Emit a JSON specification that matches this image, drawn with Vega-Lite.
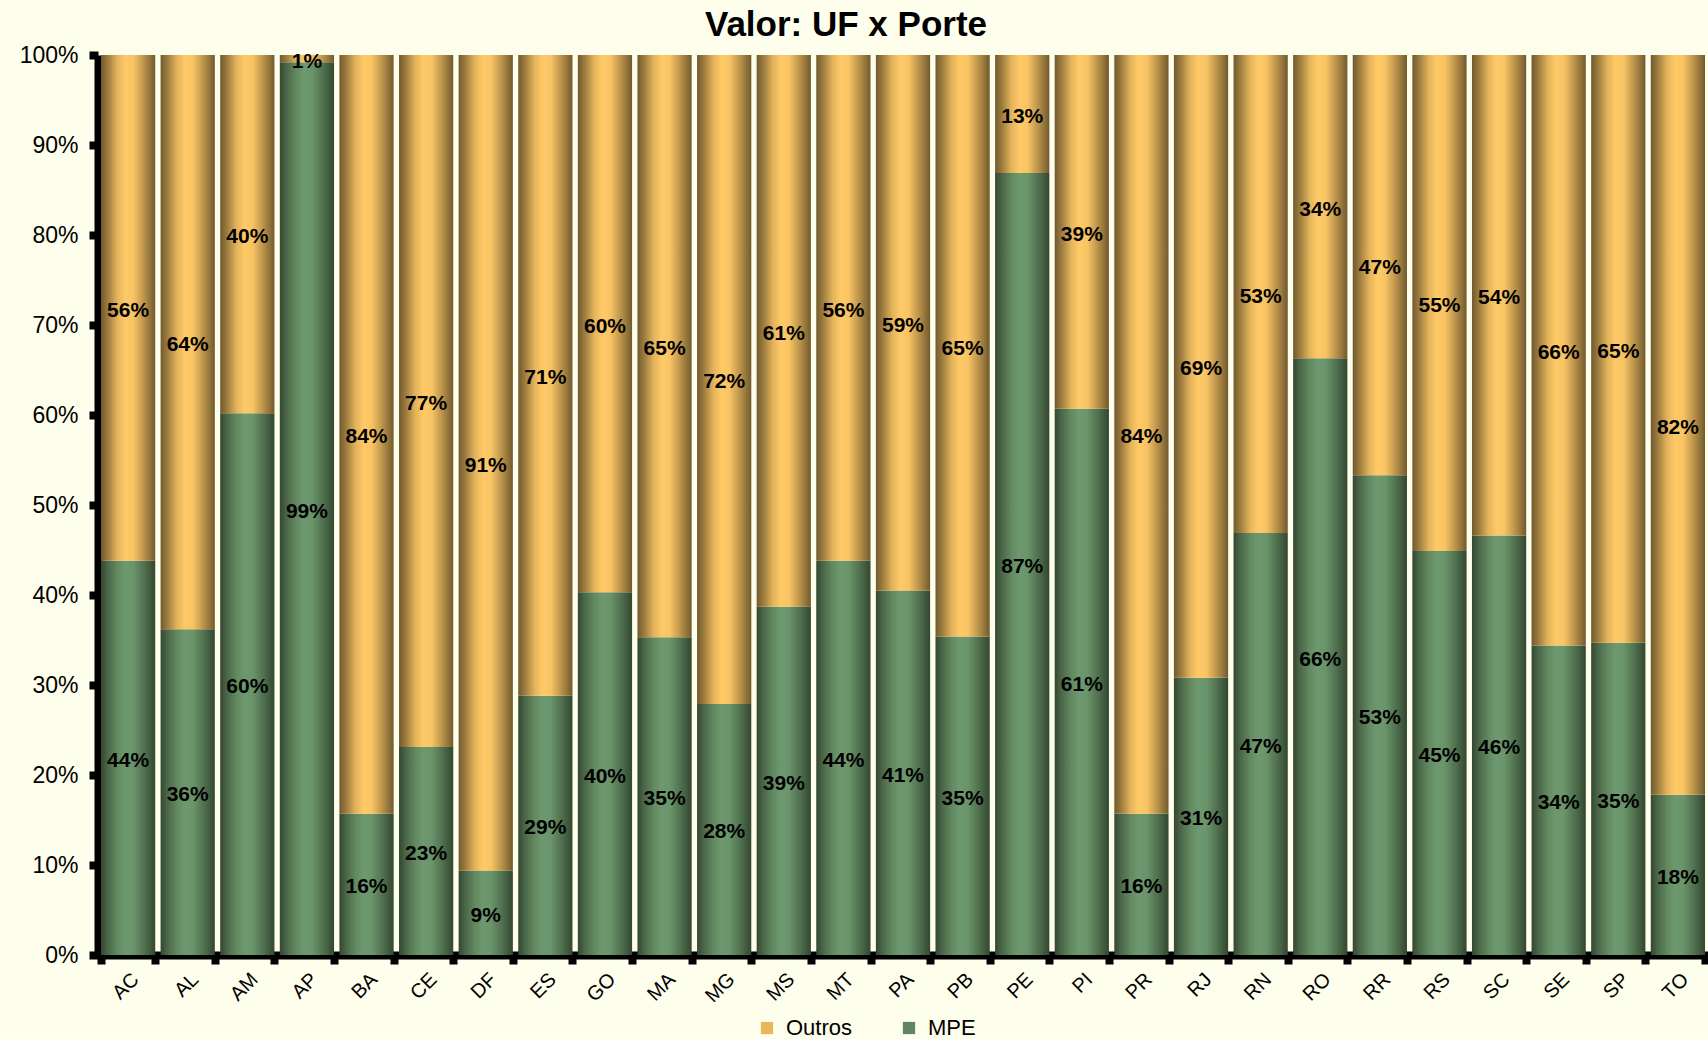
{
  "$schema": "https://vega.github.io/schema/vega-lite/v6.json",
  "width": 1610,
  "height": 900,
  "autosize": "none",
  "padding": {"left": 98, "top": 55, "right": 0, "bottom": 84},
  "background": "#fefeec",
  "title": {
    "text": "Valor: UF x Porte",
    "font": "Liberation Sans",
    "fontSize": 35,
    "fontWeight": "bold",
    "color": "#000000",
    "anchor": "middle",
    "dx": -57,
    "offset": 1
  },
  "config": {
    "view": {"stroke": null},
    "font": "Liberation Sans",
    "axis": {
      "domainColor": "#000000",
      "domainWidth": 8,
      "tickColor": "#000000",
      "tickWidth": 8,
      "tickSize": 9,
      "labelColor": "#000000",
      "labelFont": "Liberation Sans",
      "grid": false,
      "title": null
    }
  },
  "data": {
    "values": [
      {"uf": "AC", "porte": "MPE", "value": 0.438, "label": "44%"},
      {"uf": "AC", "porte": "Outros", "value": 0.562, "label": "56%"},
      {"uf": "AL", "porte": "MPE", "value": 0.362, "label": "36%"},
      {"uf": "AL", "porte": "Outros", "value": 0.638, "label": "64%"},
      {"uf": "AM", "porte": "MPE", "value": 0.602, "label": "60%"},
      {"uf": "AM", "porte": "Outros", "value": 0.398, "label": "40%"},
      {"uf": "AP", "porte": "MPE", "value": 0.992, "label": "99%"},
      {"uf": "AP", "porte": "Outros", "value": 0.008, "label": "1%"},
      {"uf": "BA", "porte": "MPE", "value": 0.157, "label": "16%"},
      {"uf": "BA", "porte": "Outros", "value": 0.843, "label": "84%"},
      {"uf": "CE", "porte": "MPE", "value": 0.231, "label": "23%"},
      {"uf": "CE", "porte": "Outros", "value": 0.769, "label": "77%"},
      {"uf": "DF", "porte": "MPE", "value": 0.094, "label": "9%"},
      {"uf": "DF", "porte": "Outros", "value": 0.906, "label": "91%"},
      {"uf": "ES", "porte": "MPE", "value": 0.288, "label": "29%"},
      {"uf": "ES", "porte": "Outros", "value": 0.712, "label": "71%"},
      {"uf": "GO", "porte": "MPE", "value": 0.403, "label": "40%"},
      {"uf": "GO", "porte": "Outros", "value": 0.597, "label": "60%"},
      {"uf": "MA", "porte": "MPE", "value": 0.353, "label": "35%"},
      {"uf": "MA", "porte": "Outros", "value": 0.647, "label": "65%"},
      {"uf": "MG", "porte": "MPE", "value": 0.279, "label": "28%"},
      {"uf": "MG", "porte": "Outros", "value": 0.721, "label": "72%"},
      {"uf": "MS", "porte": "MPE", "value": 0.387, "label": "39%"},
      {"uf": "MS", "porte": "Outros", "value": 0.613, "label": "61%"},
      {"uf": "MT", "porte": "MPE", "value": 0.438, "label": "44%"},
      {"uf": "MT", "porte": "Outros", "value": 0.562, "label": "56%"},
      {"uf": "PA", "porte": "MPE", "value": 0.405, "label": "41%"},
      {"uf": "PA", "porte": "Outros", "value": 0.595, "label": "59%"},
      {"uf": "PB", "porte": "MPE", "value": 0.354, "label": "35%"},
      {"uf": "PB", "porte": "Outros", "value": 0.646, "label": "65%"},
      {"uf": "PE", "porte": "MPE", "value": 0.869, "label": "87%"},
      {"uf": "PE", "porte": "Outros", "value": 0.131, "label": "13%"},
      {"uf": "PI", "porte": "MPE", "value": 0.607, "label": "61%"},
      {"uf": "PI", "porte": "Outros", "value": 0.393, "label": "39%"},
      {"uf": "PR", "porte": "MPE", "value": 0.157, "label": "16%"},
      {"uf": "PR", "porte": "Outros", "value": 0.843, "label": "84%"},
      {"uf": "RJ", "porte": "MPE", "value": 0.308, "label": "31%"},
      {"uf": "RJ", "porte": "Outros", "value": 0.692, "label": "69%"},
      {"uf": "RN", "porte": "MPE", "value": 0.469, "label": "47%"},
      {"uf": "RN", "porte": "Outros", "value": 0.531, "label": "53%"},
      {"uf": "RO", "porte": "MPE", "value": 0.663, "label": "66%"},
      {"uf": "RO", "porte": "Outros", "value": 0.337, "label": "34%"},
      {"uf": "RR", "porte": "MPE", "value": 0.533, "label": "53%"},
      {"uf": "RR", "porte": "Outros", "value": 0.467, "label": "47%"},
      {"uf": "RS", "porte": "MPE", "value": 0.449, "label": "45%"},
      {"uf": "RS", "porte": "Outros", "value": 0.551, "label": "55%"},
      {"uf": "SC", "porte": "MPE", "value": 0.466, "label": "46%"},
      {"uf": "SC", "porte": "Outros", "value": 0.534, "label": "54%"},
      {"uf": "SE", "porte": "MPE", "value": 0.344, "label": "34%"},
      {"uf": "SE", "porte": "Outros", "value": 0.656, "label": "66%"},
      {"uf": "SP", "porte": "MPE", "value": 0.347, "label": "35%"},
      {"uf": "SP", "porte": "Outros", "value": 0.653, "label": "65%"},
      {"uf": "TO", "porte": "MPE", "value": 0.178, "label": "18%"},
      {"uf": "TO", "porte": "Outros", "value": 0.822, "label": "82%"}
    ]
  },
  "transform": [
    {"stack": "value", "groupby": ["uf"], "sort": [{"field": "porte", "order": "ascending"}], "as": ["v0", "v1"]},
    {"calculate": "(datum.v0 + datum.v1) / 2", "as": "mid"}
  ],
  "encoding": {
    "x": {
      "field": "uf",
      "type": "nominal",
      "sort": null,
      "scale": {"paddingInner": 0.09, "paddingOuter": 0.05},
      "axis": {
        "labelAngle": -45,
        "labelFontSize": 20,
        "labelPadding": 5,
        "tickBand": "extent",
        "domainWidth": 8
      }
    }
  },
  "layer": [
    {
      "transform": [{"filter": "datum.porte === 'MPE'"}],
      "mark": {
        "type": "bar",
        "fill": {
          "gradient": "linear", "x1": 0, "y1": 0, "x2": 1, "y2": 0,
          "stops": [
            {"offset": 0, "color": "#33472f"},
            {"offset": 0.12, "color": "#4a6649"},
            {"offset": 0.3, "color": "#62895f"},
            {"offset": 0.45, "color": "#6e9970"},
            {"offset": 0.6, "color": "#6a946a"},
            {"offset": 0.8, "color": "#50704f"},
            {"offset": 1, "color": "#33472f"}
          ]
        }
      },
      "encoding": {
        "y": {
          "field": "v0",
          "type": "quantitative",
          "scale": {"domain": [0, 1], "nice": false, "zero": true},
          "axis": {
            "values": [0, 0.1, 0.2, 0.3, 0.4, 0.5, 0.6, 0.7, 0.8, 0.9, 1],
            "format": ".0%",
            "labelFontSize": 23,
            "labelPadding": 11
          }
        },
        "y2": {"field": "v1"}
      }
    },
    {
      "transform": [{"filter": "datum.porte === 'Outros'"}],
      "mark": {
        "type": "bar",
        "fill": {
          "gradient": "linear", "x1": 0, "y1": 0, "x2": 1, "y2": 0,
          "stops": [
            {"offset": 0, "color": "#725a2e"},
            {"offset": 0.12, "color": "#9a7a3e"},
            {"offset": 0.3, "color": "#e3b35b"},
            {"offset": 0.45, "color": "#ffc966"},
            {"offset": 0.6, "color": "#f8c464"},
            {"offset": 0.8, "color": "#b8914a"},
            {"offset": 1, "color": "#725a2e"}
          ]
        }
      },
      "encoding": {
        "y": {"field": "v0", "type": "quantitative"},
        "y2": {"field": "v1"}
      }
    },
    {
      "mark": {"type": "bar", "opacity": 0},
      "encoding": {
        "y": {"field": "v0", "type": "quantitative"},
        "y2": {"field": "v1"},
        "color": {
          "field": "porte",
          "type": "nominal",
          "scale": {"domain": ["Outros", "MPE"], "range": ["#e8b65c", "#5f8660"]},
          "legend": {
            "orient": "none",
            "direction": "horizontal",
            "legendX": 658,
            "legendY": 962,
            "title": null,
            "padding": 0,
            "symbolType": "square",
            "symbolSize": 150,
            "symbolOpacity": 1,
            "symbolStrokeWidth": 0,
            "labelFont": "Liberation Sans",
            "labelFontSize": 22,
            "labelColor": "#000000",
            "labelOffset": 8,
            "columnPadding": 45
          }
        }
      }
    },
    {
      "mark": {"type": "text", "font": "Liberation Sans", "fontSize": 21, "fontWeight": "bold", "color": "#000000", "baseline": "middle", "dy": 3},
      "encoding": {
        "y": {"field": "mid", "type": "quantitative"},
        "text": {"field": "label", "type": "nominal"}
      }
    }
  ]
}
